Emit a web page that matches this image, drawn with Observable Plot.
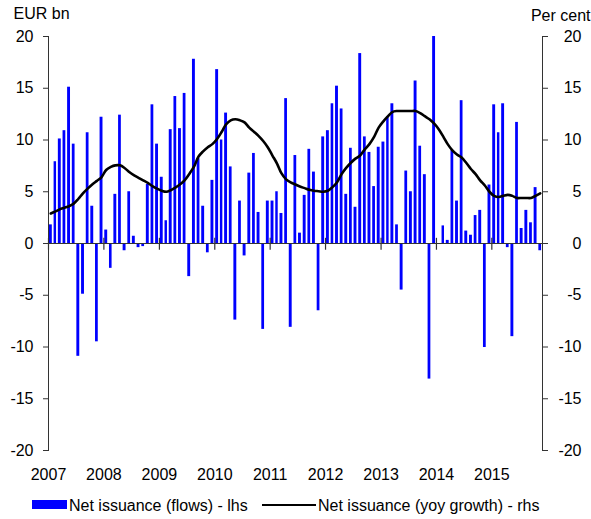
<!DOCTYPE html>
<html>
<head>
<meta charset="utf-8">
<script src="https://cdn.jsdelivr.net/npm/d3@7"></script>
<script src="https://cdn.jsdelivr.net/npm/@observablehq/plot@0.6"></script>
<style>
  html, body { margin: 0; padding: 0; background: #fff; }
  body { width: 591px; height: 519px; position: relative; overflow: hidden;
         font-family: "Liberation Sans", Arial, sans-serif; font-size: 16px; color: #000; }
  #chart { position: absolute; left: 0; top: 0; }
  .lg { position: absolute; line-height: 16px; white-space: nowrap; }
  .sw { position: absolute; }
</style>
</head>
<body>
<div id="chart"></div>
<div class="sw" style="left:32px; top:500px; width:35px; height:9px; background:#0000ff;"></div>
<div class="lg" style="left:69px; top:498px;">Net issuance (flows) - lhs</div>
<div class="sw" style="left:262px; top:503.5px; width:54px; height:2px; background:#000;"></div>
<div class="lg" style="left:318px; top:498px;">Net issuance (yoy growth) - rhs</div>
<script>
// Monthly net issuance flows (EUR bn), Jan 2007 - Nov 2015
const flows = [
  1.8, 7.9, 10.1, 10.9, 15.1, 9.6, -10.9, -4.9, 10.7, 3.6, -9.5, 12.2,     // 2007
  1.3, -2.4, 4.75, 12.4, -0.7, 5.0, 0.7, -0.4, -0.3, 5.7, 13.4, 9.6,       // 2008
  6.4, 2.2, 11.0, 14.2, 11.1, 14.5, -3.2, 17.8, 8.2, 3.6, -0.9, 6.1,       // 2009
  16.8, 10.0, 12.6, 7.4, -7.4, 4.1, -1.2, 6.8, 8.7, 3.0, -8.3, 4.1,        // 2010
  4.1, 5.0, 2.9, 14.0, -8.1, 8.5, 1.0, 4.65, 9.1, 6.9, -6.5, 10.3,         // 2011
  10.9, 13.5, 15.2, 13.0, 4.75, 9.2, 3.5, 18.35, 10.3, 8.8, 5.5, 9.3,      // 2012
  9.8, 12.25, 13.5, 1.8, -4.5, 7.0, 5.0, 15.7, 9.4, 6.65, -13.1, 20.0,     // 2013
  0.0, 1.7, 0.3, 9.0, 4.1, 13.8, 1.2, 0.8, 2.7, 3.2, -10.05, 5.65,         // 2014
  13.4, 10.7, 13.5, -0.4, -9.0, 11.7, 1.45, 3.2, 2.0, 5.4, -0.7            // 2015
];
// Year-on-year growth (per cent)
const growth = [
  2.9, 3.1, 3.3, 3.45, 3.6, 3.85, 4.3, 4.85, 5.3, 5.7, 6.05, 6.4,
  7.1, 7.4, 7.55, 7.55, 7.3, 6.9, 6.6, 6.35, 6.1, 5.85, 5.55, 5.3,
  5.1, 5.0, 5.15, 5.4, 5.7, 6.1, 6.7, 7.4, 8.4, 8.9, 9.3, 9.6,
  10.1, 10.8, 11.5, 11.9, 12.0, 11.9, 11.7, 11.2, 10.8, 10.4, 9.9, 9.3,
  8.5, 7.7, 6.8, 6.2, 5.9, 5.7, 5.5, 5.35, 5.2, 5.1, 5.05, 5.0,
  5.1, 5.45, 5.9, 6.7, 7.3, 7.8, 8.2, 8.5, 9.1, 9.6, 10.3, 11.2,
  11.8, 12.3, 12.7, 12.8, 12.8, 12.8, 12.8, 12.8, 12.6, 12.3, 12.0, 11.6,
  11.05, 10.3, 9.6, 9.0, 8.6, 8.3, 7.8, 7.2, 6.7, 6.1, 5.6, 5.0,
  4.6, 4.5, 4.6, 4.7, 4.6, 4.4, 4.4, 4.4, 4.4, 4.6, 4.85
];
const years = [2007, 2008, 2009, 2010, 2011, 2012, 2013, 2014, 2015];
const yTicks = [-20, -15, -10, -5, 0, 5, 10, 15, 20];

const months = d3.utcMonth.range(new Date(Date.UTC(2007, 0, 1)), new Date(Date.UTC(2015, 10, 2)));
const data = months.map((date, i) => ({date, flow: flows[i], growth: growth[i]}));
const yearStarts = years.map(y => new Date(Date.UTC(y, 0, 1)));
const fmt = d => String(d);

const chart = Plot.plot({
  width: 591,
  height: 485,
  marginLeft: 48,
  marginRight: 49,
  marginTop: 36,
  marginBottom: 35,
  style: {fontFamily: "'Liberation Sans', Arial, sans-serif", fontSize: "16px", color: "#000", background: "#fff", overflow: "visible"},
  x: {type: "utc", domain: [new Date(Date.UTC(2007, 0, 1)), new Date(Date.UTC(2015, 11, 1))]},
  y: {domain: [-20, 20]},
  marks: [
    Plot.rectY(data, {x: "date", interval: d3.utcMonth, y: "flow", fill: "#0000ff", insetLeft: 0.9, insetRight: 0.9}),
    Plot.ruleY([0], {stroke: "#333", strokeWidth: 1.2}),
    Plot.ruleX(yearStarts, {y1: -0.65, y2: 0.5, stroke: "#333", strokeWidth: 1.2}),
    Plot.lineY(data, {x: d => d3.utcDay.offset(d.date, 15), y: "growth", stroke: "#000", strokeWidth: 2.6, curve: "catmull-rom"}),
    Plot.frame({anchor: "left", stroke: "#333"}),
    Plot.frame({anchor: "right", stroke: "#333"}),
    Plot.axisY({anchor: "left", ticks: yTicks, tickSize: 5, tickPadding: 10, tickFormat: fmt, label: null, stroke: "#333"}),
    Plot.axisY({anchor: "right", ticks: yTicks, tickSize: 5, tickPadding: 34, textAnchor: "end", tickFormat: fmt, label: null, stroke: "#333"}),
    Plot.axisX({anchor: "bottom", ticks: yearStarts, tickSize: 0, tickPadding: 18, tickFormat: d3.utcFormat("%Y"), label: null}),
    Plot.text(["EUR bn"], {frameAnchor: "top-left", dx: -35, dy: -18, textAnchor: "start", lineAnchor: "bottom"}),
    Plot.text(["Per cent"], {frameAnchor: "top-right", dx: 48, dy: -16, textAnchor: "end", lineAnchor: "bottom"})
  ]
});
document.getElementById("chart").appendChild(chart);
</script>
</body>
</html>
